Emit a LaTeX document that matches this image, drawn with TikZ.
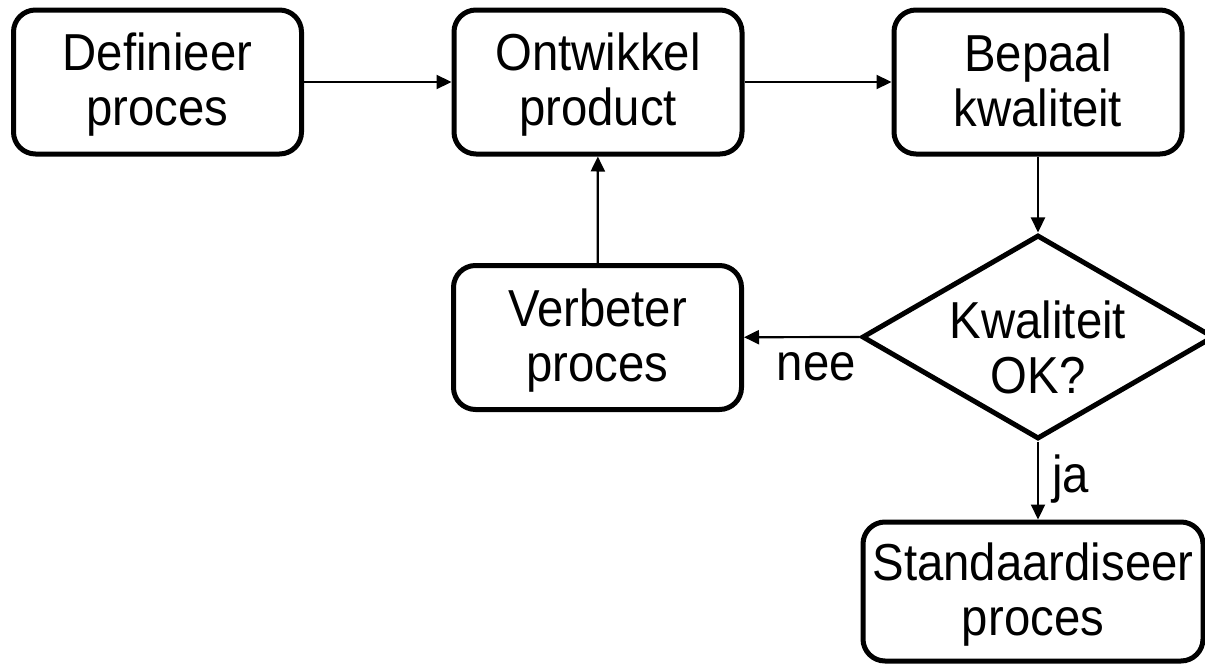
\documentclass[tikz,border=0pt]{standalone}
\usepackage{fontspec}
\setmainfont[FakeStretch=0.91]{Liberation Sans}
\usetikzlibrary{arrows.meta,shapes.geometric}
\newcommand\lnstrut{\rule[-10pt]{0pt}{53pt}}
\begin{document}
\begin{tikzpicture}[x=1pt,y=-1pt,
  every node/.style={font=\fontsize{52}{55}\selectfont},
  procbox/.style={draw, line width=5pt, rounded corners=22pt, align=center,
    inner sep=0pt, minimum width=288pt, minimum height=144pt},
  decision/.style={draw, diamond, line width=5pt, inner sep=0pt,
    minimum width=352pt, minimum height=204pt},
  arr/.style={line width=2.2pt, -{Triangle[length=15pt,width=14pt]}},
  edgelabel/.style={inner sep=0pt}]
\useasboundingbox (0,0) rectangle (1205,664);
\node[procbox] (def) at (157.5,82) {\lnstrut Definieer\\\lnstrut proces};
\node[procbox] (ont) at (598,82) {\lnstrut Ontwikkel\\\lnstrut product};
\node[procbox] (bep) at (1038,82) {\lnstrut Bepaal\\\lnstrut kwaliteit};
\node[procbox] (ver) at (597.5,337.5) {\lnstrut Verbeter\\\lnstrut proces};
\node[decision] (dia) at (1038,337) {};
\node[align=center, inner sep=0pt] (diatext) at (1038,349) {\lnstrut Kwaliteit\\\lnstrut OK?};
\node[procbox, minimum width=340pt, minimum height=139pt] (std) at (1033,591.5) {\lnstrut Standaardiseer\\\lnstrut proces};
\draw[arr] (def) -- (ont);
\draw[arr] (ont) -- (bep);
\draw[arr] (bep) -- (dia);
\draw[arr] (dia.west) -- (ver);
\draw[arr] (ver) -- (ont);
\draw[arr] (dia.south) -- (dia.south |- std.north);
\node[edgelabel, anchor=base east] (nee) at (856,380) {nee};
\node[edgelabel, anchor=base west] (ja) at (1052,492) {ja};
\end{tikzpicture}
\end{document}
